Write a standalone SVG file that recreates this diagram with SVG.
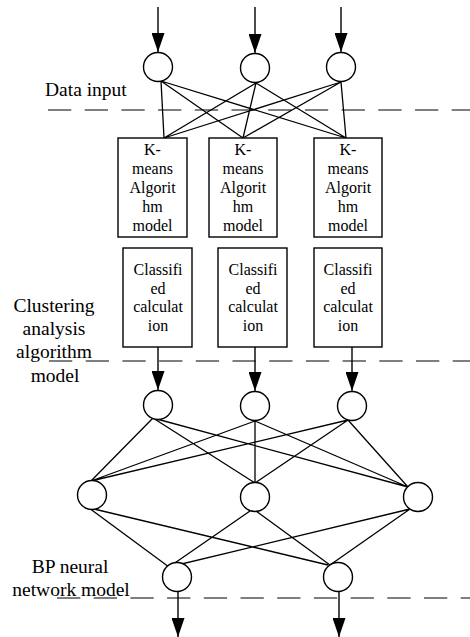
<svg xmlns="http://www.w3.org/2000/svg" width="470" height="637" viewBox="0 0 470 637">
<style>
.n{fill:#fff;stroke:#000;stroke-width:1.4}
.c{fill:none;stroke:#000;stroke-width:1.3}
.a{fill:none;stroke:#000;stroke-width:1.4;marker-end:url(#ah)}
.d{fill:none;stroke:#000;stroke-width:1.2;stroke-dasharray:23.3 13.4}
.bt{font-family:"Liberation Serif","Times New Roman",serif;font-size:16px;text-anchor:middle;fill:#000}
.lt{font-family:"Liberation Serif","Times New Roman",serif;font-size:19.5px;fill:#000}
</style>
<defs>
<marker id="ah" viewBox="0 0 19 13" refX="19" refY="6.5" markerWidth="19" markerHeight="13" markerUnits="userSpaceOnUse" orient="auto">
<path d="M0,0 L19,6.5 L0,13 z" fill="#000"/>
</marker>
</defs>
<g id="dividers">
<line class="d" x1="48" y1="110" x2="470" y2="110"/>
<line class="d" x1="49" y1="361" x2="470" y2="361"/>
<line class="d" x1="57" y1="598" x2="470" y2="598"/>
</g>
<g id="labels">
<text class="lt" x="45" y="96">Data input</text>
<text class="lt" text-anchor="middle" x="54" y="312">Clustering</text>
<text class="lt" text-anchor="middle" x="54" y="335">analysis</text>
<text class="lt" text-anchor="middle" x="54" y="358">algorithm</text>
<text class="lt" text-anchor="middle" x="55" y="382">model</text>
<text class="lt" text-anchor="middle" x="70" y="573">BP neural</text>
<text class="lt" text-anchor="middle" x="71" y="596">network model</text>
</g>
<g id="connectors">
<line class="a" x1="158" y1="7" x2="158" y2="52"/>
<line class="a" x1="255" y1="7" x2="255" y2="53"/>
<line class="a" x1="341" y1="7" x2="341" y2="52"/>
<path class="c" d="M161,81 L164,138 M161,81 L243,138 M161,81 L346,138 M256,83 L164,138 M256,83 L243,138 M256,83 L346,138 M341,82 L164,138 M341,82 L243,138 M341,82 L346,138"/>
<line class="a" x1="158" y1="347" x2="158" y2="390"/>
<line class="a" x1="255" y1="347" x2="255" y2="391"/>
<line class="a" x1="352" y1="347" x2="352" y2="391"/>
<path class="c" d="M153,418 L91,481 M153,418 L255,483 M153,418 L408,487 M255,421 L91,481 M255,421 L255,483 M255,421 L408,487 M348,420 L91,481 M348,420 L255,483 M348,420 L408,487"/>
<path class="c" d="M89,508 L169,567 M94,509 L328,565 M250,511 L169,567 M256,511 L330,565 M410,509 L169,567 M410,509 L330,565"/>
<line class="a" x1="178" y1="592" x2="178" y2="637"/>
<line class="a" x1="339" y1="592" x2="339" y2="637"/>
</g>
<g id="in1"><circle class="n" cx="158" cy="67" r="14.5"/></g>
<g id="in2"><circle class="n" cx="255" cy="68" r="14.5"/></g>
<g id="in3"><circle class="n" cx="341" cy="67" r="14.5"/></g>
<g id="km1"><rect class="n" x="118" y="138" width="69" height="99"/>
<text class="bt" x="152.5" y="155">K-</text><text class="bt" x="152.5" y="174">means</text><text class="bt" x="152.5" y="193">Algorit</text><text class="bt" x="152.5" y="212">hm</text><text class="bt" x="152.5" y="231">model</text></g>
<g id="km2"><rect class="n" x="209" y="138" width="68" height="99"/>
<text class="bt" x="243" y="155">K-</text><text class="bt" x="243" y="174">means</text><text class="bt" x="243" y="193">Algorit</text><text class="bt" x="243" y="212">hm</text><text class="bt" x="243" y="231">model</text></g>
<g id="km3"><rect class="n" x="314" y="138" width="68" height="99"/>
<text class="bt" x="348" y="155">K-</text><text class="bt" x="348" y="174">means</text><text class="bt" x="348" y="193">Algorit</text><text class="bt" x="348" y="212">hm</text><text class="bt" x="348" y="231">model</text></g>
<g id="cl1"><rect class="n" x="123" y="248" width="69" height="99"/>
<text class="bt" x="158" y="275">Classifi</text><text class="bt" x="158" y="293.5">ed</text><text class="bt" x="158" y="312">calculat</text><text class="bt" x="158" y="331">ion</text></g>
<g id="cl2"><rect class="n" x="218" y="248" width="69" height="99"/>
<text class="bt" x="253" y="275">Classifi</text><text class="bt" x="253" y="293.5">ed</text><text class="bt" x="253" y="312">calculat</text><text class="bt" x="253" y="331">ion</text></g>
<g id="cl3"><rect class="n" x="314" y="248" width="68" height="99"/>
<text class="bt" x="348" y="275">Classifi</text><text class="bt" x="348" y="293.5">ed</text><text class="bt" x="348" y="312">calculat</text><text class="bt" x="348" y="331">ion</text></g>
<g id="bp1"><circle class="n" cx="158" cy="405" r="14.5"/></g>
<g id="bp2"><circle class="n" cx="255" cy="406" r="14.5"/></g>
<g id="bp3"><circle class="n" cx="352" cy="406" r="14.5"/></g>
<g id="h1"><circle class="n" cx="92" cy="495" r="14.5"/></g>
<g id="h2"><circle class="n" cx="255" cy="497" r="14.5"/></g>
<g id="h3"><circle class="n" cx="418" cy="497" r="14.5"/></g>
<g id="o1"><circle class="n" cx="177" cy="577" r="14.5"/></g>
<g id="o2"><circle class="n" cx="338" cy="577" r="14.5"/></g>
</svg>
